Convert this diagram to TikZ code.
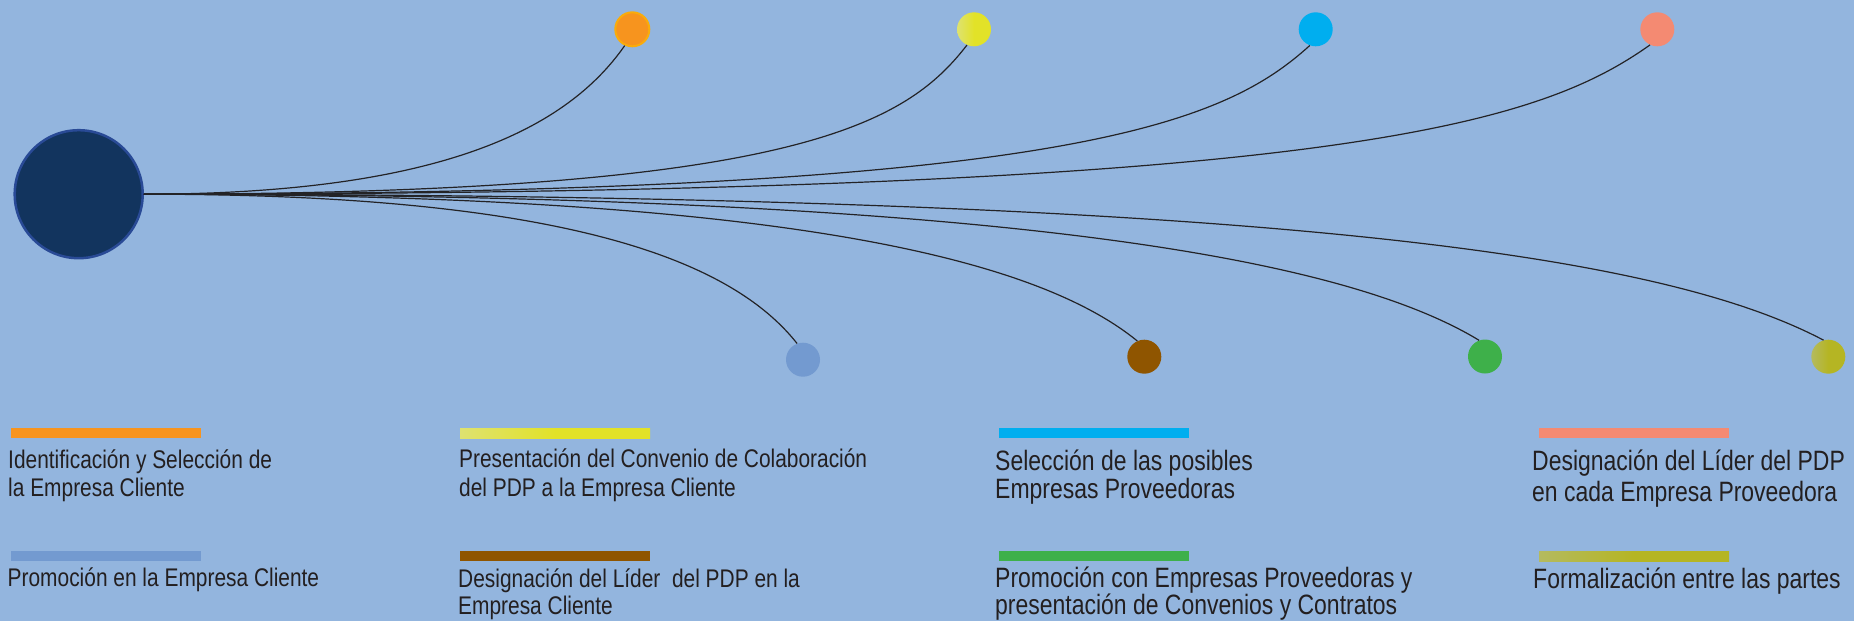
\documentclass[tikz,border=0pt]{standalone}
\usepackage{fontspec}
\newfontfamily\narrowfont[FakeStretch=0.82]{Liberation Sans}
\definecolor{bg}{RGB}{147,181,222}
\definecolor{hubfill}{RGB}{18,52,94}
\definecolor{hubdraw}{RGB}{41,74,150}
\definecolor{linkc}{RGB}{35,35,38}
\definecolor{txtc}{RGB}{35,31,32}
\definecolor{orng}{RGB}{247,148,30}
\definecolor{orngB}{RGB}{250,172,10}
\definecolor{yelL}{RGB}{222,226,112}
\definecolor{yelD}{RGB}{226,226,40}
\definecolor{cyn}{RGB}{0,174,239}
\definecolor{slm}{RGB}{244,138,114}
\definecolor{bgrey}{RGB}{115,154,208}
\definecolor{brwn}{RGB}{143,85,0}
\definecolor{grn}{RGB}{62,176,74}
\definecolor{olvL}{RGB}{180,186,95}
\definecolor{olvD}{RGB}{181,181,35}
\newcommand\twoln[3]{\vtop{\baselineskip=#1pt\lineskiplimit=-100pt\hbox{#2}\hbox{#3}}}
\begin{document}
\begin{tikzpicture}[x=1pt,y=-1pt,
  dot/.style={circle, inner sep=0pt, minimum size=34pt},
  link/.style={draw=linkc, line width=1.2pt},
  bar/.style={anchor=north west, inner sep=0pt, minimum width=190pt, minimum height=10pt},
  lbl/.style={anchor=base west, inner sep=0pt, text=txtc, font=\narrowfont}]
\fill[bg] (0,0) rectangle (1854,621);
\useasboundingbox (0,0) rectangle (1854,621);

% hub
\node[circle, inner sep=0pt, minimum size=128pt, fill=hubfill, draw=hubdraw, line width=2.5pt] (hub) at (78.7,194.2) {};

% top circles
\node[dot, fill=orng, draw=orngB, line width=2pt] (o1) at (632.3,29.3) {};
\node[dot, left color=yelL, right color=yelD, middle color=yelD] (y1) at (974,29.3) {};
\node[dot, fill=cyn] (c1) at (1315.7,29.3) {};
\node[dot, fill=slm] (s1) at (1657.3,29.3) {};
% bottom circles
\node[dot, fill=bgrey] (b1) at (803,359.7) {};
\node[dot, fill=brwn] (br1) at (1144.3,356.7) {};
\node[dot, fill=grn] (g1) at (1485,356.5) {};
\node[dot, left color=olvL, right color=olvD, middle color=olvD] (ol1) at (1828.3,356.7) {};

% connectors
\draw[link] (hub.east) .. controls (444,194) and (568,127) .. (o1.245);
\draw[link] (hub.east) .. controls (794,194) and (905,125) .. (y1.246);
\draw[link] (hub.east) .. controls (1065,194) and (1222,125) .. (c1.250);
\draw[link] (hub.east) .. controls (1334,194) and (1537,125) .. (s1.245);
\draw[link] (hub.east) .. controls (568,194) and (732,261) .. (b1.110);
\draw[link] (hub.east) .. controls (789,194) and (1038,260) .. (br1.114);
\draw[link] (hub.east) .. controls (1013,194) and (1347,260) .. (g1.110);
\draw[link] (hub.east) .. controls (1320,194) and (1673,261) .. (ol1.106);

% legend bars
\node[bar, fill=orng] (k1) at (11,428) {};
\node[bar, left color=yelL, right color=yelD, middle color=yelD] (k2) at (460,428) {};
\node[bar, fill=cyn] (k3) at (999,428) {};
\node[bar, fill=slm] (k4) at (1539,428) {};
\node[bar, fill=bgrey] (k5) at (11,551) {};
\node[bar, fill=brwn] (k6) at (460,551) {};
\node[bar, fill=grn] (k7) at (999,551) {};
\node[bar, left color=olvL, right color=olvD, middle color=olvD] (k8) at (1539,551) {};

% legend texts
\node[lbl] (t1) at (8,468.3) {\fontsize{25.5}{28}\selectfont\twoln{28}{Identificación y Selección de}{la Empresa Cliente}};
\node[lbl] (t2) at (459,467.3) {\fontsize{25.5}{28}\selectfont\twoln{28.7}{Presentación del Convenio de Colaboración}{del PDP a la Empresa Cliente}};
\node[lbl] (t3) at (995,470) {\fontsize{28}{30}\selectfont\twoln{28}{Selección de las posibles}{Empresas Proveedoras}};
\node[lbl] (t4) at (1532,470) {\fontsize{28}{30}\selectfont\twoln{31.5}{Designación del Líder del PDP}{en cada Empresa Proveedora}};
\node[lbl] (t5) at (7.5,586.7) {\fontsize{25.5}{28}\selectfont Promoción en la Empresa Cliente};
\node[lbl] (t6) at (458,587) {\fontsize{25.5}{28}\selectfont\twoln{27}{Designación del Líder\ \ del PDP en la}{Empresa Cliente}};
\node[lbl] (t7) at (995,587.3) {\fontsize{28}{30}\selectfont\twoln{27}{Promoción con Empresas Proveedoras y}{presentación de Convenios y Contratos}};
\node[lbl] (t8) at (1533,588.3) {\fontsize{28}{30}\selectfont Formalización entre las partes};
\end{tikzpicture}
\end{document}
